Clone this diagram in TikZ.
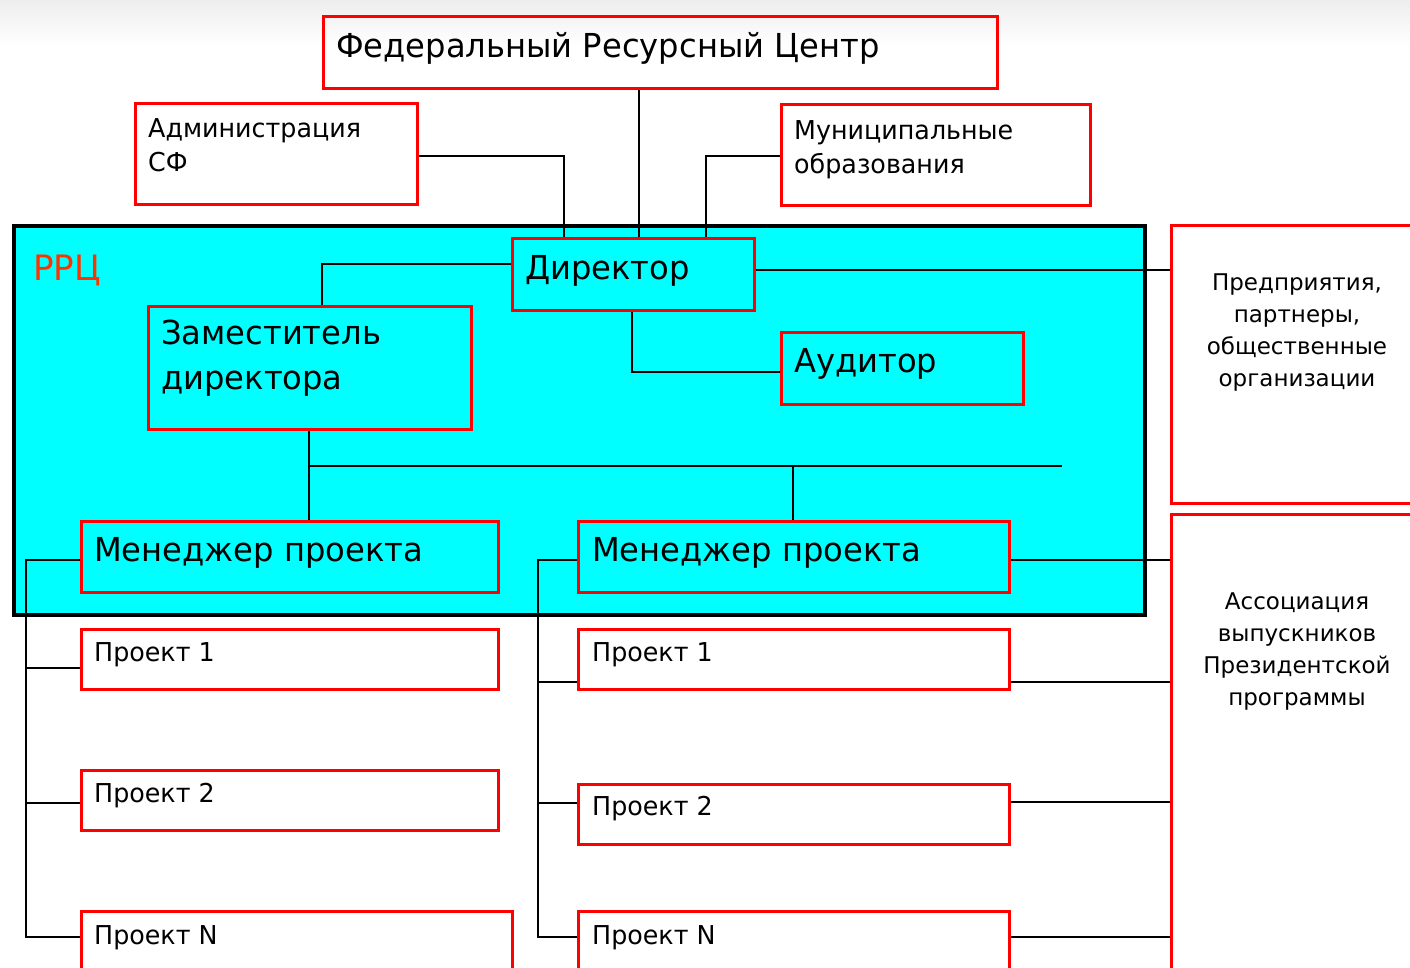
\documentclass[tikz,border=0pt]{standalone}
\usepackage{fontspec}
\setmainfont{DejaVu Sans}[FakeStretch=0.975]
\newfontfamily\verd{DejaVu Sans}
\usetikzlibrary{calc}
\definecolor{rred}{RGB}{255,0,0}
\definecolor{rcyan}{RGB}{0,255,255}
\definecolor{rorange}{RGB}{255,51,0}
\tikzset{
  box/.style={draw=rred, line width=3pt, rectangle, inner sep=0pt, anchor=north west},
  conn/.style={line width=1.5pt, black},
  big/.style={font=\fontsize{33}{45}\selectfont, inner sep=0pt},
  mid/.style={font=\fontsize{26}{34}\selectfont, inner sep=0pt},
  side/.style={font=\verd\fontsize{23}{32}\selectfont, inner sep=0pt, align=center, anchor=north},
}
\newcommand\bx[6]{\node[box,fill=#6,minimum width={#4-#2},minimum height={#5-#3}] (#1) at (#2,#3) {};}
\begin{document}
\begin{tikzpicture}[x=1pt,y=-1pt]
\useasboundingbox (0,0) rectangle (1410,967);
\fill[white] (0,0) rectangle (1410,967);
\shade[top color=black!7, bottom color=white] (0,0) rectangle (1410,45);
% big RRC box
\node[draw=black, line width=4pt, fill=rcyan, rectangle, inner sep=0pt, anchor=north west,
      minimum width=1131, minimum height=389] (rrc) at (12,224) {};
\node[font=\fontsize{35}{40}\selectfont, text=rorange, inner sep=0pt, anchor=base west] (trrc) at (33,280) {РРЦ};
% top boxes
\bx{frc}{322}{15}{996}{87}{none}
\bx{adm}{134}{102}{416}{203}{white}
\bx{mun}{780}{103}{1089}{204}{white}
% inside RRC
\bx{dir}{511}{237}{753}{309}{rcyan}
\bx{zam}{147}{305}{470}{428}{rcyan}
\bx{aud}{780}{331}{1022}{403}{rcyan}
\bx{ma}{80}{520}{497}{591}{rcyan}
\bx{mb}{577}{520}{1008}{591}{rcyan}
% projects
\bx{pa1}{80}{628}{497}{688}{white}
\bx{pa2}{80}{769}{497}{829}{white}
\bx{paN}{80}{910}{511}{1000}{white}
\bx{pb1}{577}{628}{1008}{688}{white}
\bx{pb2}{577}{783}{1008}{843}{white}
\bx{pbN}{577}{910}{1008}{1000}{white}
% right boxes
\bx{pred}{1170}{224}{1440}{502}{white}
\bx{assoc}{1170}{513}{1440}{1000}{white}
% texts
\node[big, anchor=base west] (tfrc) at (336,57) {Федеральный Ресурсный Центр};
\node[mid, align=left, anchor=north west] (tadm) at (148,118) {Администрация\\СФ};
\node[mid, align=left, anchor=north west] (tmun) at (794,120) {Муниципальные\\образования};
\node[big, anchor=base west] (tdir) at (525,279) {Директор};
\node[big, align=left, anchor=north west] (tzam) at (161,320) {Заместитель\\директора};
\node[big, anchor=base west] (taud) at (794,372) {Аудитор};
\node[big, anchor=base west] (tma) at (94,561) {Менеджер проекта};
\node[big, anchor=base west] (tmb) at (592,561) {Менеджер проекта};
\node[mid, anchor=base west] (tpa1) at (94,661) {Проект 1};
\node[mid, anchor=base west] (tpa2) at (94,802) {Проект 2};
\node[mid, anchor=base west] (tpaN) at (94,944) {Проект N};
\node[mid, anchor=base west] (tpb1) at (592,661) {Проект 1};
\node[mid, anchor=base west] (tpb2) at (592,815) {Проект 2};
\node[mid, anchor=base west] (tpbN) at (592,944) {Проект N};
\node[side] (tpred) at (1297,274) {Предприятия,\\партнеры,\\общественные\\организации};
\node[side] (tassoc) at (1297,593) {Ассоциация\\выпускников\\Президентской\\программы};
% connectors
\draw[conn] ([xshift=317]frc.south west) -- ([xshift=128]dir.north west);
\draw[conn] ([yshift=-54]adm.north east) -| ([xshift=53]dir.north west);
\draw[conn] ([yshift=-53]mun.north west) -| ([xshift=195]dir.north west);
\draw[conn] ([yshift=-27]dir.north west) -| ([xshift=175]zam.north west);
\draw[conn] ([xshift=121]dir.south west) |- ([yshift=-41]aud.north west);
\draw[conn] ([yshift=-33]dir.north east) -- ([yshift=-46]pred.north west);
\coordinate (j1) at (309,466);
\coordinate (jend) at (1062,466);
\coordinate (j2) at (793,466);
\draw[conn] ([xshift=162]zam.south west) -- ([xshift=229]ma.north west);
\draw[conn] (j1) -- (jend);
\draw[conn] (j2) -- ([xshift=216]mb.north west);
\coordinate (ba) at (26,560);
\draw[conn] ([yshift=-40]ma.north west) -- (ba) |- ([yshift=-27]paN.north west);
\draw[conn] (ba |- pa1.north west) ++(0,40) -- ([yshift=-40]pa1.north west);
\draw[conn] (ba |- pa2.north west) ++(0,34) -- ([yshift=-34]pa2.north west);
\coordinate (bb) at (538,560);
\draw[conn] ([yshift=-40]mb.north west) -- (bb) |- ([yshift=-27]pbN.north west);
\draw[conn] (bb |- pb1.north west) ++(0,54) -- ([yshift=-54]pb1.north west);
\draw[conn] (bb |- pb2.north west) ++(0,20) -- ([yshift=-20]pb2.north west);
\draw[conn] ([yshift=-40]mb.north east) -- ([yshift=-47]assoc.north west);
\draw[conn] ([yshift=-54]pb1.north east) -- ([yshift=-169]assoc.north west);
\draw[conn] ([yshift=-19]pb2.north east) -- ([yshift=-289]assoc.north west);
\draw[conn] ([yshift=-27]pbN.north east) -- ([yshift=-424]assoc.north west);
\end{tikzpicture}
\end{document}
